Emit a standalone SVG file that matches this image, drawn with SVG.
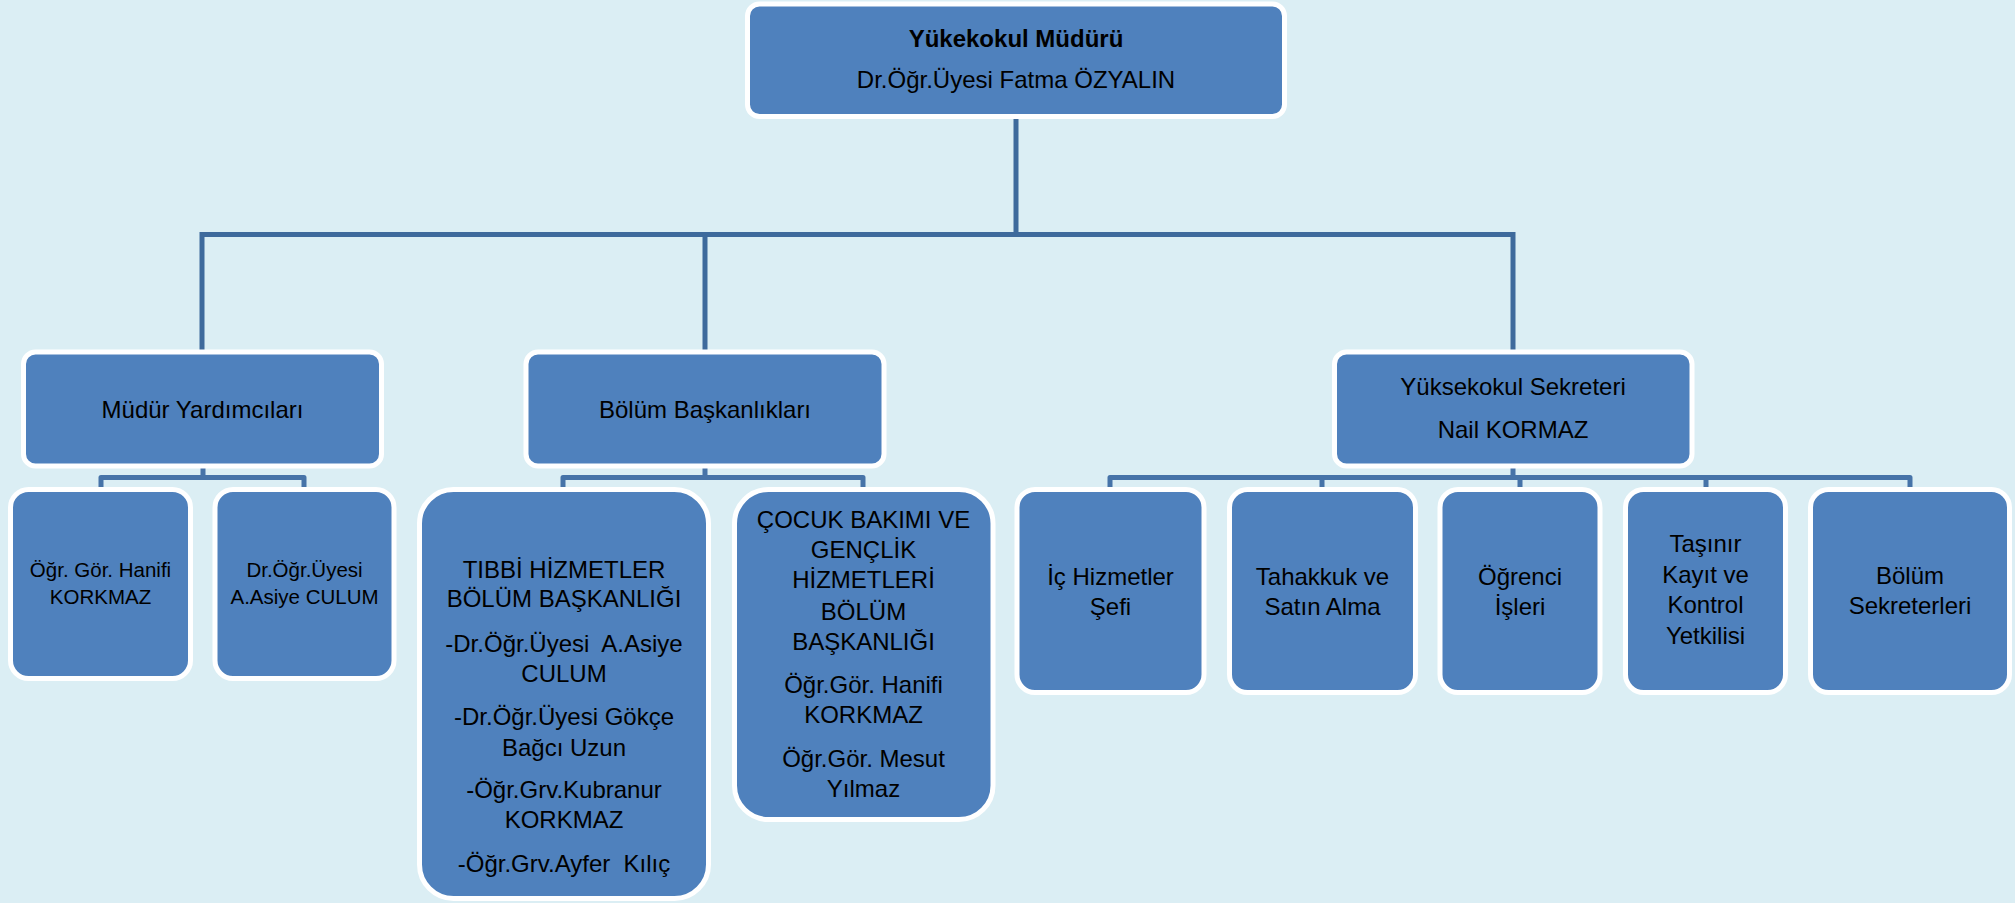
<svg xmlns="http://www.w3.org/2000/svg" width="2015" height="903" viewBox="0 0 2015 903">
<style>
.bg{fill:#dbeef4}
.box{fill:#4f81bd;stroke:#ffffff;stroke-width:5}
.conn{fill:none;stroke:#3e6a9c;stroke-width:5;stroke-linejoin:miter}
.sub{fill:none;stroke:#4673a8;stroke-width:5;stroke-linejoin:round}
text{font-family:"Liberation Sans",Arial,sans-serif;fill:#000000;text-anchor:middle;white-space:pre}
.t24{font-size:24px}
.t20{font-size:20.5px}
.b{font-weight:bold}
</style>
<rect class="bg" x="0" y="0" width="2015" height="903"/>
<g id="connectors">
  <path class="conn" d="M1016 117 V234.5 M202 234.5 H1513 M202 232 V351 M705 232 V351 M1513 232 V351"/>
  <path class="sub" d="M203 466 V477.5 M101 488 V477.5 H304 V488"/>
  <path class="sub" d="M705 466 V477.5 M563 488 V477.5 H863 V488"/>
  <path class="sub" d="M1513 466 V477.5 M1110 488 V477.5 H1910 V488 M1322 477.5 V488 M1520 477.5 V488 M1706 477.5 V488"/>
</g>
<g id="mudur">
  <rect class="box" x="747.5" y="4" width="537" height="112.5" rx="12"/>
  <text class="t24 b" x="1016" y="47">Yükekokul Müdürü</text>
  <text class="t24" x="1016" y="88">Dr.Öğr.Üyesi Fatma ÖZYALIN</text>
</g>
<g id="mudur-yardimcilari">
  <rect class="box" x="23.5" y="352" width="358" height="114" rx="12"/>
  <text class="t24" x="202.5" y="418">Müdür Yardımcıları</text>
</g>
<g id="yard1">
  <rect class="box" x="10.5" y="489.5" width="180" height="189" rx="18"/>
  <text class="t20" x="100.5" y="577">Öğr. Gör. Hanifi</text>
  <text class="t20" x="100.5" y="604">KORKMAZ</text>
</g>
<g id="yard2">
  <rect class="box" x="215" y="489.5" width="179" height="189" rx="18"/>
  <text class="t20" x="304.5" y="577">Dr.Öğr.Üyesi</text>
  <text class="t20" x="304.5" y="604">A.Asiye CULUM</text>
</g>
<g id="bolum-baskanliklari">
  <rect class="box" x="526" y="352" width="358" height="114" rx="12"/>
  <text class="t24" x="705" y="418">Bölüm Başkanlıkları</text>
</g>
<g id="tibbi">
  <rect class="box" x="419.5" y="489.5" width="289" height="409" rx="34"/>
  <text class="t24" x="564" y="578">TIBBİ HİZMETLER</text>
  <text class="t24" x="564" y="607">BÖLÜM BAŞKANLIĞI</text>
  <text class="t24" x="564" y="652">-Dr.Öğr.Üyesi  A.Asiye</text>
  <text class="t24" x="564" y="682">CULUM</text>
  <text class="t24" x="564" y="725">-Dr.Öğr.Üyesi Gökçe</text>
  <text class="t24" x="564" y="756">Bağcı Uzun</text>
  <text class="t24" x="564" y="798">-Öğr.Grv.Kubranur</text>
  <text class="t24" x="564" y="828">KORKMAZ</text>
  <text class="t24" x="564" y="872">-Öğr.Grv.Ayfer  Kılıç</text>
</g>
<g id="cocuk">
  <rect class="box" x="734.5" y="489.5" width="258.5" height="330" rx="34"/>
  <text class="t24" x="863.5" y="528">ÇOCUK BAKIMI VE</text>
  <text class="t24" x="863.5" y="558">GENÇLİK</text>
  <text class="t24" x="863.5" y="588">HİZMETLERİ</text>
  <text class="t24" x="863.5" y="620">BÖLÜM</text>
  <text class="t24" x="863.5" y="650">BAŞKANLIĞI</text>
  <text class="t24" x="863.5" y="693">Öğr.Gör. Hanifi</text>
  <text class="t24" x="863.5" y="723">KORKMAZ</text>
  <text class="t24" x="863.5" y="767">Öğr.Gör. Mesut</text>
  <text class="t24" x="863.5" y="797">Yılmaz</text>
</g>
<g id="sekreter">
  <rect class="box" x="1334.5" y="352" width="357.5" height="114" rx="12"/>
  <text class="t24" x="1513" y="395">Yüksekokul Sekreteri</text>
  <text class="t24" x="1513" y="438">Nail KORMAZ</text>
</g>
<g id="ic-hizmetler">
  <rect class="box" x="1017" y="489.5" width="187" height="203" rx="18"/>
  <text class="t24" x="1110.5" y="585">İç Hizmetler</text>
  <text class="t24" x="1110.5" y="615">Şefi</text>
</g>
<g id="tahakkuk">
  <rect class="box" x="1229.5" y="489.5" width="186" height="203" rx="18"/>
  <text class="t24" x="1322.5" y="585">Tahakkuk ve</text>
  <text class="t24" x="1322.5" y="615">Satın Alma</text>
</g>
<g id="ogrenci">
  <rect class="box" x="1440" y="489.5" width="160" height="203" rx="18"/>
  <text class="t24" x="1520" y="585">Öğrenci</text>
  <text class="t24" x="1520" y="615">İşleri</text>
</g>
<g id="tasinir">
  <rect class="box" x="1625.5" y="489.5" width="160" height="203" rx="18"/>
  <text class="t24" x="1705.5" y="552">Taşınır</text>
  <text class="t24" x="1705.5" y="583">Kayıt ve</text>
  <text class="t24" x="1705.5" y="613">Kontrol</text>
  <text class="t24" x="1705.5" y="644">Yetkilisi</text>
</g>
<g id="bolum-sekreterleri">
  <rect class="box" x="1810.5" y="489.5" width="199" height="203" rx="18"/>
  <text class="t24" x="1910" y="584">Bölüm</text>
  <text class="t24" x="1910" y="614">Sekreterleri</text>
</g>
</svg>
